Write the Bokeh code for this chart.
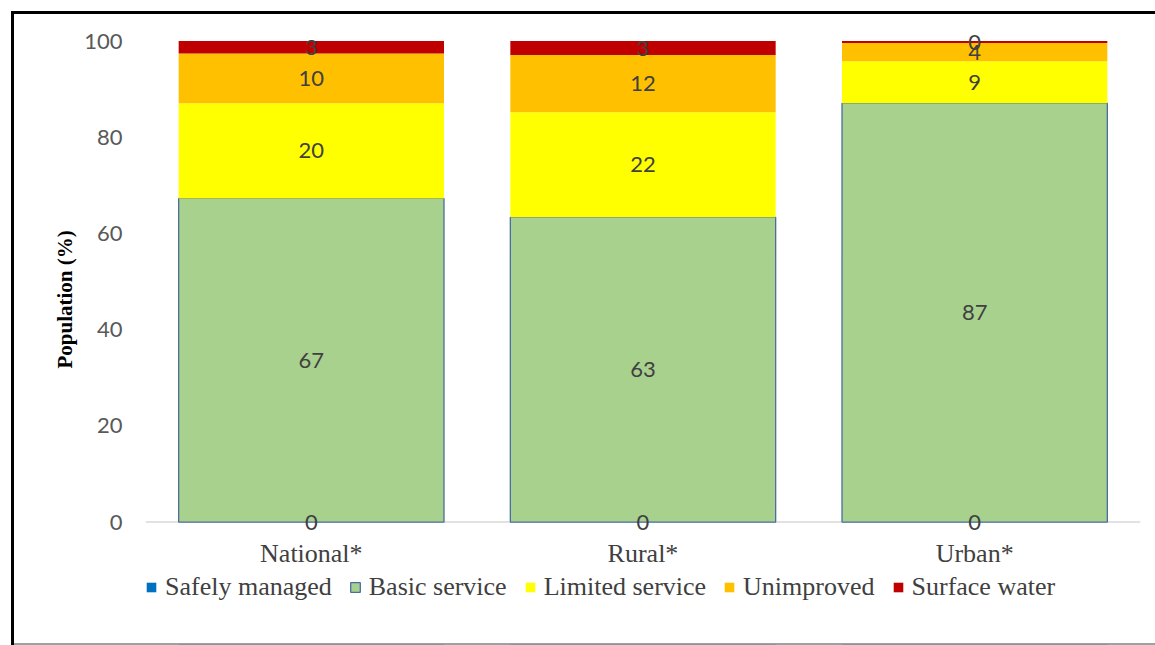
from bokeh.plotting import figure
from bokeh.layouts import column
from bokeh.models import (ColumnDataSource, FactorRange, Range1d, FixedTicker, LabelSet,
                          Legend, LegendItem, Span, Title)
from bokeh.core.properties import value
from bokeh.embed import file_html
from bokeh.resources import INLINE

# ---- data ----
categories = ["National*", "Rural*", "Urban*"]
series_names = ["Safely managed", "Basic service", "Limited service", "Unimproved", "Surface water"]
safely_managed = [0, 0, 0]
basic_service = [67.3, 63.4, 87.1]
limited_service = [19.8, 21.8, 8.7]
unimproved = [10.3, 11.9, 3.8]
surface_water = [2.6, 2.9, 0.4]
y_ticks = [0, 20, 40, 60, 80, 100]

keys = ["safely", "basic", "limited", "unimproved", "surface"]
values_by_key = dict(zip(keys, [safely_managed, basic_service, limited_service, unimproved, surface_water]))
colors = ["#0070C0", "#A9D18E", "#FFFF00", "#FFC000", "#C00000"]
line_colors = [None, "#4A6F9E", None, None, None]

src = ColumnDataSource(dict(cat=categories, **values_by_key))

W = 1155
x_range = FactorRange(factors=categories, range_padding=0)
p = figure(x_range=x_range, y_range=Range1d(-3, 102),
           width=W, height=570, output_backend="svg", toolbar_location=None,
           min_border_left=145, min_border_right=15, min_border_top=31, min_border_bottom=34)
p.border_fill_color = None
p.background_fill_color = None
p.outline_line_color = None
p.xgrid.visible = False
p.ygrid.visible = False

# category axis line at value 0, drawn under the bars
p.add_layout(Span(location=0, dimension="width", line_color="#D9D9D9",
                  line_width=1.5, level="underlay"))

p.vbar_stack(keys, x="cat", width=0.8, source=src,
             fill_color=colors, line_color=line_colors, line_width=1.3)

# data labels at the middle of each segment
lx, ly, lt = [], [], []
for i, c in enumerate(categories):
    base = 0.0
    for k in keys:
        v = values_by_key[k][i]
        lx.append(c)
        ly.append(base + v / 2.0)
        lt.append(str(int(round(v))))
        base += v
lab_src = ColumnDataSource(dict(x=lx, y=ly, t=lt))
p.add_layout(LabelSet(x="x", y="y", text="t", source=lab_src,
                      text_align="center", text_baseline="middle",
                      text_font=value("Lato"), text_font_size="22px",
                      text_color="#404040"))

# y axis
ya = p.yaxis[0]
ya.ticker = FixedTicker(ticks=y_ticks)
ya.axis_line_color = None
ya.major_tick_line_color = None
ya.minor_tick_line_color = None
ya.major_tick_out = 0
ya.major_tick_in = 0
ya.major_label_standoff = 23
ya.major_label_text_font = "Lato"
ya.major_label_text_font_size = "22px"
ya.major_label_text_color = "#595959"

# y axis title, placed a little below the centre as in the original
p.add_layout(Title(text="Population (%)", align="left", offset=168,
                   text_font="Liberation Serif", text_font_style="bold",
                   text_font_size="21px", text_color="black"), "left")

# x axis
xa = p.xaxis[0]
xa.axis_line_color = None
xa.major_tick_line_color = None
xa.minor_tick_line_color = None
xa.major_tick_out = 0
xa.major_tick_in = 0
xa.major_label_standoff = 2
xa.major_label_text_font = "Liberation Serif"
xa.major_label_text_font_size = "26px"
xa.major_label_text_color = "#404040"

# ---- legend strip below the chart (same series, drawn out of view) ----
p2 = figure(x_range=x_range, y_range=Range1d(500, 600),
            width=W, height=75, output_backend="svg", toolbar_location=None,
            x_axis_location=None, y_axis_location=None,
            min_border_left=136, min_border_right=0, min_border_top=2, min_border_bottom=0)
p2.border_fill_color = None
p2.background_fill_color = None
p2.outline_line_color = None
p2.xgrid.visible = False
p2.ygrid.visible = False
leg_renderers = p2.vbar_stack(keys, x="cat", width=0.8, source=src,
                              fill_color=colors, line_color=line_colors, line_width=1.3)
leg = Legend(items=[LegendItem(label=n, renderers=[r]) for n, r in zip(series_names, leg_renderers)],
             location="top_left", orientation="horizontal")
leg.background_fill_alpha = 0
leg.border_line_color = None
leg.padding = 0
leg.margin = 0
leg.spacing = 17
leg.label_standoff = 8
leg.glyph_width = 12
leg.glyph_height = 12
leg.label_text_font = "Liberation Serif"
leg.label_text_font_size = "26px"
leg.label_text_color = "#404040"
p2.add_layout(leg)

layout = column(p, p2, spacing=0)
# page-frame lines of the original document
layout.styles = {"box-shadow": "inset 11px 11px 0 0 white, inset 14px 14px 0 0 black, inset 0 -2px 0 0 #a0a0a0"}

open("out.html", "w").write(file_html(layout, INLINE))
